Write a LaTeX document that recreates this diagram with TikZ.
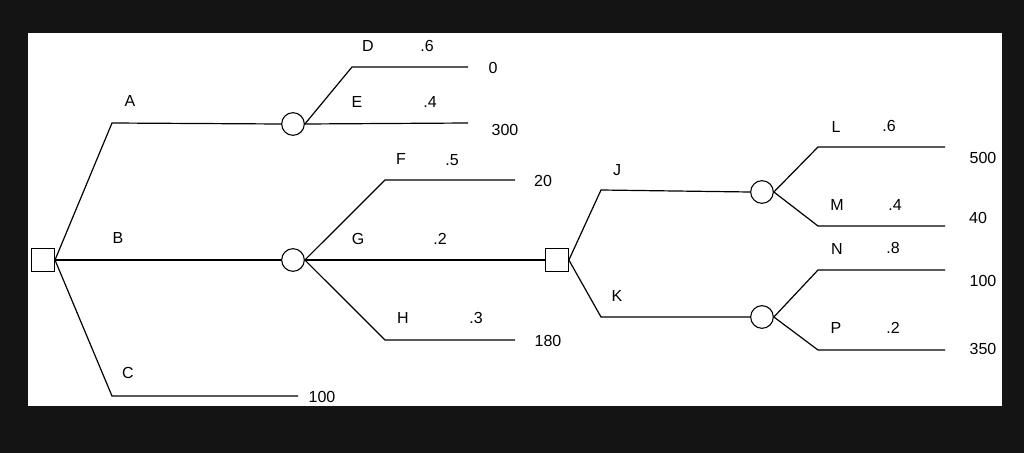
\documentclass[tikz,border=0pt]{standalone}
\usepackage{fontspec}
\setmainfont{Liberation Sans}
\begin{document}
\begin{tikzpicture}[x=0.75pt,y=-0.75pt,
  ch/.style={circle,draw,line width=0.8pt,minimum size=17pt,inner sep=0pt,fill=white},
  dc/.style={rectangle,draw,line width=0.8pt,minimum size=17pt,inner sep=0pt,fill=white},
  lb/.style={font=\fontsize{12}{14}\selectfont,inner sep=0pt},
  ln/.style={line width=0.9pt}]
\fill[black!92] (0,0) rectangle (1024,453);
\fill[white] (28,33) rectangle (1002,406);
\useasboundingbox (0,0) rectangle (1024,453);
% nodes
\node[dc] (s1) at (43,260) {};
\node[ch] (c1) at (293,124) {};
\node[ch] (c2) at (293,260) {};
\node[dc] (s2) at (557,260) {};
\node[ch] (c3) at (762,192) {};
\node[ch] (c4) at (762,317) {};
\coordinate (s1o) at (55,260);
\coordinate (a1) at (112,123);
\coordinate (c1a) at (112,396);
\coordinate (cend) at (298,396);
\coordinate (d1) at (352,67); \coordinate (d2) at (468,67);
\coordinate (e2) at (468,123);
\coordinate (f1) at (385,180); \coordinate (f2) at (515,180);
\coordinate (h1) at (385,340); \coordinate (h2) at (515,340);
\coordinate (j1) at (601,190); \coordinate (k1) at (601,317);
\coordinate (l1) at (818,147); \coordinate (l2) at (945,147);
\coordinate (m1) at (818,226); \coordinate (m2) at (945,226);
\coordinate (n1) at (818,270); \coordinate (n2) at (945,270);
\coordinate (p1) at (818,350); \coordinate (p2) at (945,350);
% connectors
\draw[ln] (s1o) -- (a1) -- (c1.west);
\draw[ln] (s1o) -- (c2.west);
\draw[ln] (s1o) -- (c1a) -- (cend);
\draw[ln] (c1.east) -- (d1) -- (d2);
\draw[ln] (c1.east) -- (e2);
\draw[ln] (c2.east) -- (f1) -- (f2);
\draw[ln] (c2.east) -- (s2.west);
\draw[ln] (c2.east) -- (h1) -- (h2);
\draw[ln] (s2.east) -- (j1) -- (c3.west);
\draw[ln] (s2.east) -- (k1) -- (c4.west);
\draw[ln] (c3.east) -- (l1) -- (l2);
\draw[ln] (c3.east) -- (m1) -- (m2);
\draw[ln] (c4.east) -- (n1) -- (n2);
\draw[ln] (c4.east) -- (p1) -- (p2);
% labels
\node[lb] (tA) at (130,101) {A};
\node[lb] (tB) at (118,238) {B};
\node[lb] (tC) at (128,373) {C};
\node[lb] (t100a) at (322,397) {100};
\node[lb] (tD) at (368,46) {D};
\node[lb] (pD) at (427,46) {.6};
\node[lb] (v0) at (493,68) {0};
\node[lb] (tE) at (357,102) {E};
\node[lb] (pE) at (430,102) {.4};
\node[lb] (v300) at (505,130) {300};
\node[lb] (tF) at (401,159) {F};
\node[lb] (pF) at (452,160) {.5};
\node[lb] (v20) at (543,181) {20};
\node[lb] (tG) at (358,239) {G};
\node[lb] (pG) at (440,239) {.2};
\node[lb] (tH) at (403,318) {H};
\node[lb] (pH) at (476,318) {.3};
\node[lb] (v180) at (548,341) {180};
\node[lb] (tJ) at (617,170) {J};
\node[lb] (tK) at (617,296) {K};
\node[lb] (tL) at (836,127) {L};
\node[lb] (pL) at (889,126) {.6};
\node[lb] (v500) at (983,158) {500};
\node[lb] (tM) at (837,205) {M};
\node[lb] (pM) at (895,205) {.4};
\node[lb] (v40) at (978,218) {40};
\node[lb] (tN) at (837,249) {N};
\node[lb] (pN) at (893,248) {.8};
\node[lb] (v100b) at (983,281) {100};
\node[lb] (tP) at (836,328) {P};
\node[lb] (pP) at (893,328) {.2};
\node[lb] (v350) at (983,349) {350};
\end{tikzpicture}
\end{document}
